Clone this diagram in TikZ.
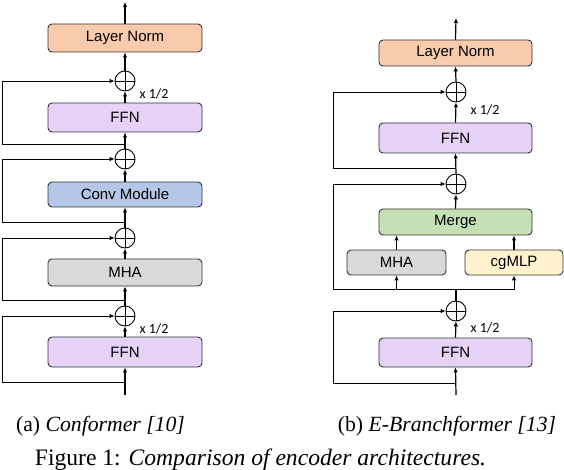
\documentclass[tikz,border=0pt]{standalone}
\usepackage{fontspec}
\setmainfont{Liberation Serif}
\setsansfont{Liberation Sans}
\newfontfamily\calfont{Carlito}
\usetikzlibrary{arrows.meta}
\definecolor{lncol}{HTML}{F8CBAD}
\definecolor{ffncol}{HTML}{E6D2F7}
\definecolor{convcol}{HTML}{B4C7E7}
\definecolor{mhacol}{HTML}{D9D9D9}
\definecolor{mergecol}{HTML}{C5E0B4}
\definecolor{cgcol}{HTML}{FFF2CC}
\definecolor{bord}{HTML}{333333}
\tikzset{
  blk/.style={draw=bord, line width=0.9pt, rounded corners=4pt, minimum width=154pt, inner sep=0pt, font=\sffamily\fontsize{15}{15}\selectfont},
  oplus/.style={draw=black, line width=0.9pt, circle, minimum size=20pt, inner sep=0pt,
    path picture={\draw[line width=0.9pt] (path picture bounding box.north) -- (path picture bounding box.south) (path picture bounding box.west) -- (path picture bounding box.east);}},
  arr/.style={-{Latex[length=5pt,width=4.5pt]}, line width=1.2pt},
  res/.style={-{Latex[length=5pt,width=4.5pt]}, line width=0.9pt},
  half/.style={font=\calfont\fontsize{14}{14}\selectfont, anchor=west},
  captxt/.style={font=\fontsize{21.7}{21.7}\selectfont, anchor=base},
  figtxt/.style={font=\fontsize{23.6}{23.6}\selectfont, anchor=base}
}
\begin{document}
\begin{tikzpicture}[x=1pt,y=-1pt]
\useasboundingbox (0,0) rectangle (564,470);
% ---------- Conformer ----------
\coordinate (inL) at (125,395);
\coordinate (b1) at (125,382);
\node[blk, fill=ffncol, minimum height=30pt] (ffnA) at (125,352) {FFN};
\node[oplus] (p1) at (125,316) {};
\coordinate (b2) at (125,300);
\node[blk, fill=mhacol, minimum height=27pt] (mha) at (125,272.5) {MHA};
\node[oplus] (p2) at (125,238) {};
\coordinate (b3) at (125,222);
\node[blk, fill=convcol, minimum height=25pt] (conv) at (125,194.5) {Conv Module};
\node[oplus] (p3) at (125,159) {};
\coordinate (b4) at (125,144);
\node[blk, fill=ffncol, minimum height=29pt] (ffnB) at (125,117.5) {FFN};
\node[oplus] (p4) at (125,81) {};
\node[blk, fill=lncol, minimum height=28pt] (ln) at (125,38) {Layer Norm};
\coordinate (outL) at (125,2);
\node[half] (h1) at (136,329) {x 1/2};
\node[half] (h2) at (136,94) {x 1/2};

\draw[arr] (inL) -- (ffnA.south);
\draw[arr] (ffnA.north) -- (p1.south);
\draw[arr] (p1.north) -- (mha.south);
\draw[arr] (mha.north) -- (p2.south);
\draw[arr] (p2.north) -- (conv.south);
\draw[arr] (conv.north) -- (p3.south);
\draw[arr] (p3.north) -- (ffnB.south);
\draw[arr] (ffnB.north) -- (p4.south);
\draw[arr] (p4.north) -- (ln.south);
\draw[arr] (ln.north) -- (outL);

\draw[res] (b1) -- ([xshift=-123pt]b1) |- (p1.west);
\draw[res] (b2) -- ([xshift=-123pt]b2) |- (p2.west);
\draw[res] (b3) -- ([xshift=-123pt]b3) |- (p3.west);
\draw[res] (b4) -- ([xshift=-123pt]b4) |- (p4.west);

% ---------- E-Branchformer ----------
\coordinate (inR) at (456,395);
\coordinate (c1) at (456,383);
\node[blk, fill=ffncol, minimum width=153pt, minimum height=29pt] (ffnC) at (455.5,352.5) {FFN};
\node[oplus] (q1) at (456,311) {};
\coordinate (split) at (456,289);
\coordinate (lft) at (333,289);
\node[blk, fill=mhacol, minimum width=99pt, minimum height=25pt] (mhaR) at (396.5,262.5) {MHA};
\node[blk, fill=cgcol, minimum width=98pt, minimum height=25pt] (cg) at (514,262.5) {cgMLP};
\node[blk, fill=mergecol, minimum width=153pt, minimum height=26pt] (merge) at (455.5,222) {Merge};
\node[oplus] (q2) at (456,184) {};
\coordinate (c2) at (456,168);
\node[blk, fill=ffncol, minimum width=153pt, minimum height=30pt] (ffnD) at (455.5,138) {FFN};
\node[oplus] (q3) at (456,92) {};
\node[blk, fill=lncol, minimum width=153pt, minimum height=26pt] (lnR) at (455.5,53) {Layer Norm};
\coordinate (outR) at (456,18);
\node[half] (h3) at (467,328) {x 1/2};
\node[half] (h4) at (467,110) {x 1/2};

\draw[arr] (inR) -- (ffnC.south);
\draw[arr] (ffnC.north) -- (q1.south);
\draw[line width=1.2pt] (q1.north) -- (split);
\draw[res] (split) -| (mhaR.south);
\draw[res] (split) -| (cg.south);
\draw[arr] (mhaR.north) -- (mhaR.north |- merge.south);
\draw[arr] (cg.north) -- (cg.north |- merge.south);
\draw[arr] (merge.north) -- (q2.south);
\draw[arr] (q2.north) -- (ffnD.south);
\draw[arr] (ffnD.north) -- (q3.south);
\draw[arr] (q3.north) -- (lnR.south);
\draw[arr] (lnR.north) -- (outR);

\draw[res] (c1) -- ([xshift=-123pt]c1) |- (q1.west);
\draw[res] (split) -- (lft) |- (q2.west);
\draw[res] (c2) -- ([xshift=-123pt]c2) |- (q3.west);

% ---------- captions ----------
\node[captxt] (capa) at (100.5,431) {(a) \textit{Conformer [10]}};
\node[captxt] (capb) at (447,431) {(b) \textit{E-Branchformer [13]}};
\node[figtxt] (capf) at (260.5,465) {Figure 1: \textit{Comparison of encoder architectures.}};
\end{tikzpicture}
\end{document}
